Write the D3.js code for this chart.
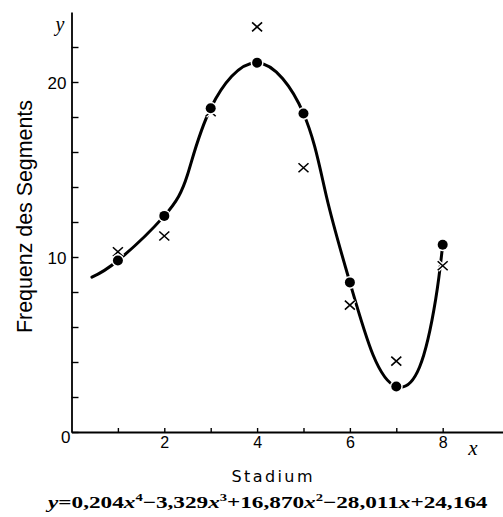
<!DOCTYPE html>
<html>
  <head>
    <meta charset="utf-8">
    <script src="https://d3js.org/d3.v7.min.js"></script>
    <style>
      body { margin: 0; background: #fff; }
      text { fill: #000; }
    </style>
  </head>
  <body>
    <svg width="503" height="517"></svg>
    <script>

      // stages (x) with fitted points (dots) and observed points (crosses)
      var stages   = [1, 2, 3, 4, 5, 6, 7, 8];
      var fitted   = [9.8, 12.35, 18.5, 21.1, 18.2, 8.55, 2.6, 10.7];
      var observed = [10.3, 11.2, 18.3, 23.15, 15.1, 7.25, 4.05, 9.5];

      // hand drawn curve
      var curveX = [0.44, 1, 2, 2.5, 3, 4, 5, 5.5, 6, 6.5, 7, 7.5, 7.85, 8];
      var curveY = [8.85, 9.8, 12.35, 14.7, 18.5, 21.1, 18.2, 13.4, 8.55, 4.4, 2.6, 3.7, 7.6, 10.7];

      var xTicks = [1, 2, 3, 4, 5, 6, 7, 8],
          xTickLabels = [2, 4, 6, 8];
      var yTicks = [0, 2, 4, 6, 8, 10, 12, 14, 16, 18, 20, 22],
          yTickLabels = [10, 20];

      var formulaTerms = [
        {sign: "=", coef: "0,204", pow: "4"},
        {sign: "\u2212", coef: "3,329", pow: "3"},
        {sign: "+", coef: "16,870", pow: "2"},
        {sign: "\u2212", coef: "28,011", pow: ""},
        {sign: "+", coef: "24,164", pow: null}
      ];

      var svg = d3.select("svg");

      var x = d3.scaleLinear().domain([0, 9.3]).range([71.5, 503]),
          y = d3.scaleLinear().domain([0, 24]).range([432, 12]);

      var sans = "'Liberation Sans', Arial, sans-serif",
          serif = "'Liberation Serif', 'Times New Roman', serif";

      // axes
      var xAxis = svg.append("g")
          .attr("transform", "translate(0," + y(0) + ")")
          .call(d3.axisBottom(x)
            .tickValues(xTicks)
            .tickSizeInner(-4)
            .tickSizeOuter(0)
            .tickPadding(5)
            .tickFormat(function(d) { return xTickLabels.indexOf(d) >= 0 ? d : ""; }));

      var yAxis = svg.append("g")
          .attr("transform", "translate(" + x(0) + ",0)")
          .call(d3.axisLeft(y)
            .tickValues(yTicks)
            .tickSizeInner(-7)
            .tickSizeOuter(0)
            .tickPadding(5)
            .tickFormat(function(d) { return yTickLabels.indexOf(d) >= 0 ? d : ""; }));

      [xAxis, yAxis].forEach(function(g) {
        g.select(".domain").attr("stroke", "#000").attr("stroke-width", 1.8);
        g.selectAll(".tick line").attr("stroke", "#000").attr("stroke-width", 1.4);
        g.selectAll(".tick text").attr("font-family", sans);
      });
      xAxis.selectAll(".tick text").attr("font-size", 16);
      yAxis.selectAll(".tick text").attr("font-size", 17).attr("dy", "0.36em");

      // origin label
      svg.append("text")
          .attr("x", x(0) - 1)
          .attr("y", y(0) + 11)
          .attr("text-anchor", "end")
          .attr("font-family", sans)
          .attr("font-size", 17)
          .text("0");

      // axis letters
      svg.append("text")
          .attr("x", 60).attr("y", 31)
          .attr("text-anchor", "middle")
          .attr("font-family", serif)
          .attr("font-style", "italic")
          .attr("font-size", 20)
          .text("y");

      svg.append("text")
          .attr("x", 473).attr("y", 455)
          .attr("text-anchor", "middle")
          .attr("font-family", serif)
          .attr("font-style", "italic")
          .attr("font-size", 21)
          .text("x");

      // axis titles
      svg.append("text")
          .attr("transform", "translate(32,216.5) rotate(-90)")
          .attr("text-anchor", "middle")
          .attr("font-family", sans)
          .attr("font-size", 21.5)
          .attr("textLength", 233)
          .attr("lengthAdjust", "spacingAndGlyphs")
          .text("Frequenz des Segments");

      svg.append("text")
          .attr("x", 272).attr("y", 482)
          .attr("text-anchor", "middle")
          .attr("font-family", "'DejaVu Sans', sans-serif")
          .attr("font-size", 16)
          .attr("textLength", 81)
          .attr("lengthAdjust", "spacing")
          .text("Stadium");

      // curve
      var curvePts = curveX.map(function(d, i) { return [d, curveY[i]]; });
      var line = d3.line()
          .x(function(d) { return x(d[0]); })
          .y(function(d) { return y(d[1]); })
          .curve(d3.curveNatural);

      svg.append("path")
          .datum(curvePts)
          .attr("d", line)
          .attr("fill", "none")
          .attr("stroke", "#000")
          .attr("stroke-width", 3)
          .attr("stroke-linecap", "round");

      // crosses
      var crossPath = "M-5,-4.5L5,4.5M-5,4.5L5,-4.5";
      var crosses = svg.selectAll(".cross")
          .data(stages)
        .enter().append("g")
          .attr("class", "cross")
          .attr("transform", function(d, i) { return "translate(" + x(d) + "," + y(observed[i]) + ")"; });
      crosses.append("path")
          .attr("d", crossPath)
          .attr("stroke", "#fff")
          .attr("stroke-width", 4);
      crosses.append("path")
          .attr("d", crossPath)
          .attr("stroke", "#000")
          .attr("stroke-width", 1.6);

      // dots
      svg.selectAll(".dot")
          .data(stages)
        .enter().append("circle")
          .attr("class", "dot")
          .attr("cx", function(d) { return x(d); })
          .attr("cy", function(d, i) { return y(fitted[i]); })
          .attr("r", 5)
          .attr("fill", "#000")
          .attr("stroke", "#fff")
          .attr("stroke-width", 3)
          .attr("paint-order", "stroke");

      // formula
      var formula = svg.append("text")
          .attr("x", 48).attr("y", 508)
          .attr("font-family", serif)
          .attr("font-size", 17.5)
          .attr("font-weight", "bold");

      formula.append("tspan").attr("font-style", "italic").text("y");
      var shift = 0;
      formulaTerms.forEach(function(t) {
        formula.append("tspan").attr("dy", -shift).text(t.sign + t.coef);
        shift = 0;
        if (t.pow !== null) {
          formula.append("tspan").attr("font-style", "italic").text("x");
          if (t.pow) {
            formula.append("tspan").attr("font-size", 11).attr("dy", -7).text(t.pow);
            shift = -7;
          }
        }
      });
      // stretch to the printed width
      var fw = formula.node().getComputedTextLength();
      formula.attr("transform", "translate(48,0) scale(" + (440 / fw) + ",1) translate(-48,0)");

    </script>
  </body>
</html>
